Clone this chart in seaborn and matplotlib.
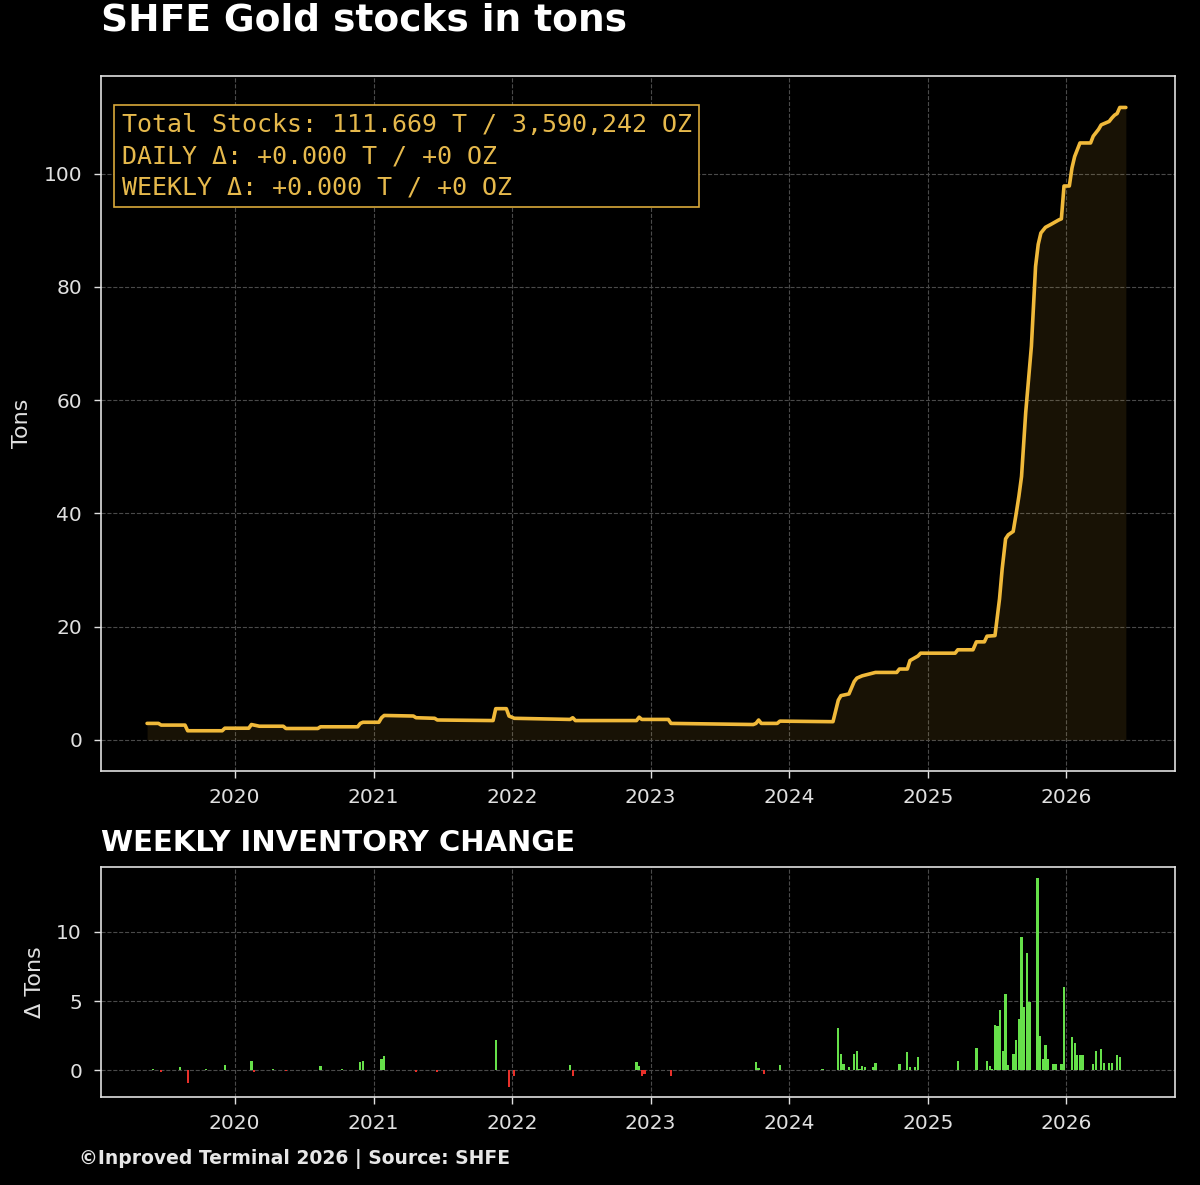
import matplotlib
matplotlib.use("Agg")
import pandas as pd
import matplotlib.pyplot as plt
import matplotlib.dates as mdates
import seaborn as sns


sns.set_style("darkgrid")
plt.rcParams.update({
    "figure.facecolor": "black",
    "axes.facecolor": "black",
    "axes.edgecolor": "#e0e0e0",
    "axes.linewidth": 1.2,
    "grid.color": "#4a4a4a",
    "grid.linestyle": "--",
    "grid.linewidth": 0.8,
    "text.color": "white",
    "axes.labelcolor": "#e0e0e0",
    "xtick.color": "#e0e0e0",
    "ytick.color": "#e0e0e0",
})
plt.rcParams["font.family"] = ["DejaVu Sans"]

GOLD = "#f0b93a"
GREEN = "#66e04a"
RED = "#e8302a"

# stock level (tons), read at change points
stock_dates = [
    "2019-05-15", "2019-06-14", "2019-06-21", "2019-08-23", "2019-08-30", "2019-11-29",
    "2019-12-06", "2020-02-07", "2020-02-14", "2020-03-06", "2020-05-08", "2020-05-15",
    "2020-08-07", "2020-08-14", "2020-11-20", "2020-11-27", "2020-12-04", "2021-01-15",
    "2021-01-22", "2021-01-29", "2021-04-16", "2021-04-23", "2021-06-11", "2021-06-18",
    "2021-11-12", "2021-11-19", "2021-12-17", "2021-12-24", "2022-01-07", "2022-06-03",
    "2022-06-10", "2022-06-17", "2022-11-25", "2022-12-02", "2022-12-09", "2023-02-17",
    "2023-02-24", "2023-09-29", "2023-10-06", "2023-10-13", "2023-10-20", "2023-12-01",
    "2023-12-08", "2024-04-26", "2024-05-10", "2024-05-17", "2024-06-07", "2024-06-21",
    "2024-06-28", "2024-07-12", "2024-08-16", "2024-10-11", "2024-10-18", "2024-11-08",
    "2024-11-15", "2024-12-06", "2024-12-13", "2025-03-14", "2025-03-21", "2025-04-30",
    "2025-05-09", "2025-05-30", "2025-06-06", "2025-06-27", "2025-07-09", "2025-07-16",
    "2025-07-25", "2025-08-01", "2025-08-14", "2025-08-22", "2025-08-29", "2025-09-05",
    "2025-09-16", "2025-10-01", "2025-10-12", "2025-10-19", "2025-10-26", "2025-11-07",
    "2025-11-21", "2025-12-12", "2025-12-19", "2025-12-26", "2026-01-09", "2026-01-16",
    "2026-01-23", "2026-02-06", "2026-03-06", "2026-03-13", "2026-03-20", "2026-03-27",
    "2026-04-03", "2026-04-24", "2026-05-01", "2026-05-08", "2026-05-15", "2026-05-22",
    "2026-06-07",
]
stock_tons = [
    2.9, 2.9, 2.6, 2.6, 1.6, 1.6,
    2.05, 2.05, 2.7, 2.4, 2.4, 2.0,
    2.0, 2.3, 2.3, 2.9, 3.1, 3.1,
    3.9, 4.3, 4.2, 3.9, 3.8, 3.5,
    3.4, 5.5, 5.5, 4.2, 3.8, 3.6,
    3.9, 3.4, 3.4, 4.0, 3.6, 3.6,
    2.9, 2.7, 2.9, 3.5, 2.9, 2.9,
    3.3, 3.2, 7.0, 7.8, 8.1, 10.3,
    10.9, 11.3, 11.9, 11.9, 12.5, 12.5,
    14.0, 14.8, 15.3, 15.3, 15.9, 15.9,
    17.3, 17.3, 18.3, 18.4, 24.9, 30.2,
    35.5, 36.2, 36.8, 40.0, 43.0, 46.5,
    57.8, 69.5, 83.6, 87.5, 89.5, 90.5,
    91.0, 91.8, 92.0, 97.8, 97.8, 101.0,
    103.0, 105.4, 105.4, 106.6, 107.2, 107.8,
    108.6, 109.2, 109.8, 110.3, 110.6, 111.669,
    111.669,
]

# weekly change (tons)
week_dates = [
    "2019-05-31", "2019-06-21", "2019-08-09", "2019-08-30", "2019-10-18", "2019-12-06",
    "2020-02-14", "2020-02-21", "2020-04-10", "2020-05-15", "2020-06-05", "2020-08-14",
    "2020-10-09", "2020-11-27", "2020-12-04", "2021-01-22", "2021-01-29", "2021-04-23",
    "2021-06-18", "2021-11-19", "2021-12-24", "2022-01-07", "2022-03-18", "2022-06-03",
    "2022-06-10", "2022-10-14", "2022-11-25", "2022-12-02", "2022-12-09", "2022-12-16",
    "2023-02-24", "2023-09-08", "2023-10-06", "2023-10-13", "2023-10-27", "2023-12-08",
    "2024-01-19", "2024-03-29", "2024-05-10", "2024-05-17", "2024-05-24", "2024-06-07",
    "2024-06-21", "2024-06-28", "2024-07-05", "2024-07-12", "2024-07-19", "2024-08-09",
    "2024-08-16", "2024-09-06", "2024-10-18", "2024-11-08", "2024-11-15", "2024-11-29",
    "2024-12-06", "2024-12-27", "2025-03-21", "2025-05-09", "2025-06-06", "2025-06-13",
    "2025-06-20", "2025-06-27", "2025-07-04", "2025-07-11", "2025-07-18", "2025-07-25",
    "2025-08-01", "2025-08-15", "2025-08-22", "2025-08-29", "2025-09-05", "2025-09-12",
    "2025-09-19", "2025-09-26", "2025-10-17", "2025-10-24", "2025-10-31", "2025-11-07",
    "2025-11-14", "2025-11-28", "2025-12-05", "2025-12-19", "2025-12-26", "2026-01-16",
    "2026-01-23", "2026-01-30", "2026-02-06", "2026-02-13", "2026-03-13", "2026-03-20",
    "2026-04-03", "2026-04-10", "2026-04-24", "2026-05-01", "2026-05-15", "2026-05-22",
]
week_delta = [
    0.1, -0.1, 0.2, -0.9, 0.1, 0.37,
    0.67, -0.1, 0.1, -0.05, 0.05, 0.32,
    0.1, 0.6, 0.65, 0.8, 1.0, -0.1,
    -0.1, 2.2, -1.2, -0.43, 0.05, 0.4,
    -0.43, 0.05, 0.58, 0.28, -0.45, -0.3,
    -0.45, 0.05, 0.6, 0.15, -0.3, 0.4,
    0.05, 0.1, 3.05, 1.2, 0.45, 0.2,
    1.2, 1.4, 0.1, 0.3, 0.25, 0.2,
    0.55, 0.05, 0.43, 1.3, 0.25, 0.2,
    0.95, 0.05, 0.67, 1.63, 0.67, 0.3,
    0.1, 3.3, 3.2, 4.33, 1.4, 5.5,
    0.36, 1.2, 2.16, 3.7, 9.66, 4.57,
    8.5, 4.93, 13.9, 2.5, 0.84, 1.85,
    0.8, 0.43, 0.43, 0.43, 6.0, 2.4,
    2.0, 1.1, 1.1, 1.1, 0.43, 1.4,
    1.5, 0.53, 0.55, 0.55, 1.1, 0.96,
]

box_lines = [
    "Total Stocks: 111.669 T / 3,590,242 OZ",
    "DAILY \u0394: +0.000 T / +0 OZ",
    "WEEKLY \u0394: +0.000 T / +0 OZ",
]

x_range = ["2019-01-13", "2026-10-14"]

df_stock = pd.DataFrame({"Date": pd.to_datetime(stock_dates), "Tons": stock_tons})
df_week = pd.DataFrame({"Date": pd.to_datetime(week_dates), "Delta": week_delta})

fig = plt.figure(figsize=(12, 11.85), dpi=100)
ax1 = fig.add_axes([0.084, 0.349, 0.895, 0.587])
ax2 = fig.add_axes([0.084, 0.074, 0.895, 0.194])

# top: stock level
ax1.fill_between(df_stock["Date"], df_stock["Tons"], color=GOLD, alpha=0.1, linewidth=0)
sns.lineplot(ax=ax1, data=df_stock, x="Date", y="Tons", color=GOLD, linewidth=2.6)
ax1.set_xlabel("")
ax1.set_ylabel("Tons", fontsize=16, labelpad=8)
ax1.grid(True)
ax1.text(0.0196, 0.947, "\n".join(box_lines), transform=ax1.transAxes,
         ha="left", va="top", fontsize=18.0, family="DejaVu Sans Mono", color="#e6b94c",
         linespacing=1.4,
         bbox=dict(boxstyle="square,pad=0.3", facecolor="black", edgecolor="#d9a93a", linewidth=1.2))

# bottom: weekly change
bar_colors = [GREEN if v >= 0 else RED for v in df_week["Delta"]]
ax2.bar(df_week["Date"], df_week["Delta"], width=6, color=bar_colors, linewidth=0)
ax2.set_ylabel("\u0394 Tons", fontsize=16, labelpad=8)
ax2.set_yticks([0, 5, 10])
ax2.grid(True)

for ax in (ax1, ax2):
    ax.set_xlim(pd.to_datetime(x_range))
    ax.xaxis.set_major_locator(mdates.YearLocator())
    ax.xaxis.set_major_formatter(mdates.DateFormatter("%Y"))
    ax.tick_params(axis="both", labelsize=14.5, length=5, width=1, colors="#e0e0e0",
                   bottom=True, left=True)
    ax.tick_params(axis="y", pad=8.5)
    ax.tick_params(axis="x", pad=7)
    for s in ax.spines.values():
        s.set_color("#e0e0e0")

fig.text(0.084, 0.983, "SHFE Gold stocks in tons", fontsize=27, fontweight="bold",
         color="white", va="center", ha="left")
fig.text(0.084, 0.2886, "WEEKLY INVENTORY CHANGE", fontsize=21, fontweight="bold",
         color="white", va="center", ha="left")
fig.text(0.066, 0.022, "\u00a9Inproved Terminal 2026 | Source: SHFE", fontsize=13.5,
         fontweight="bold", color="#e6e6e6", va="center", ha="left")

fig.savefig("out.png", dpi=100, facecolor="black")
